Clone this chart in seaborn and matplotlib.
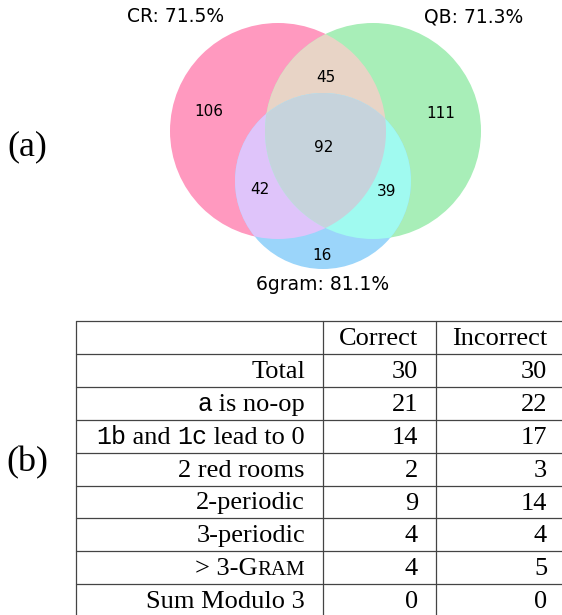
import numpy as np
import matplotlib
matplotlib.use("Agg")
import matplotlib.pyplot as plt
from matplotlib.patches import Circle, Polygon
import seaborn as sns

sns.set_theme(style="white")
plt.rcParams["text.color"] = "black"

# Venn (a)
set_names = ["CR: 71.5%", "QB: 71.3%", "6gram: 81.1%"]
region_keys = ["100", "010", "001", "110", "101", "011", "111"]
region_counts = [106, 111, 16, 45, 42, 39, 92]
region_colors = ["#FF99BF", "#A8EEB8", "#9BD5FA", "#E8D4C6", "#DFC4FA", "#A0FAF0", "#C6D3DC"]

# Table (b)
col_headers = ["Correct", "Incorrect"]
row_labels = [
    [("Total", "serif")],
    [("a", "mono"), (" is no-op", "serif")],
    [("1b", "mono"), (" and ", "serif"), ("1c", "mono"), (" lead to 0", "serif")],
    [("2 red rooms", "serif")],
    [("2-periodic", "serif")],
    [("3-periodic", "serif")],
    [("> 3-G", "serif"), ("RAM", "small")],
    [("Sum Modulo 3", "serif")],
]
correct = [30, 21, 14, 2, 9, 4, 4, 0]
incorrect = [30, 22, 17, 3, 14, 4, 5, 0]

fig = plt.figure(figsize=(5.62, 6.15), dpi=100)
ax = fig.add_axes([0, 0, 1, 1])
ax.set_xlim(0, 562)
ax.set_ylim(615, 0)
ax.axis("off")

# circle layout (pixel units)
centers = [(278, 131), (373, 131), (323, 181)]
radii = [108, 108, 88]


def circ(i, **kw):
    return Circle(centers[i], radii[i], transform=ax.transData, lw=0, **kw)


colors = dict(zip(region_keys, region_colors))
counts = dict(zip(region_keys, region_counts))

# single sets
for i, key in enumerate(["100", "010", "001"]):
    ax.add_patch(circ(i, facecolor=colors[key], zorder=1))
# pairwise overlaps
for (i, j), key in zip([(0, 1), (0, 2), (1, 2)], ["110", "101", "011"]):
    p = circ(j, facecolor=colors[key], zorder=2)
    ax.add_patch(p)
    p.set_clip_path(circ(i))

# lens of CR and QB, used to clip the triple region
(ax0, ay0), (bx0, by0) = centers[0], centers[1]
r = radii[0]
d = bx0 - ax0
h = np.sqrt(r ** 2 - (d / 2) ** 2)
t = np.arctan2(h, d / 2)
ta = np.linspace(-t, t, 100)
tb = np.linspace(np.pi - t, np.pi + t, 100)
pts = np.vstack([
    np.column_stack([ax0 + r * np.cos(ta), ay0 + r * np.sin(ta)]),
    np.column_stack([bx0 + r * np.cos(tb), by0 + r * np.sin(tb)]),
])
lens = Polygon(pts, closed=True, transform=ax.transData)
p = circ(2, facecolor=colors["111"], zorder=3)
ax.add_patch(p)
p.set_clip_path(lens)

label_pos = {"100": (209, 112), "010": (441, 113), "001": (322, 256),
             "110": (326, 77), "101": (260, 190), "011": (387, 191), "111": (324, 148)}
for key in region_keys:
    x, y = label_pos[key]
    ax.text(x, y, str(counts[key]), ha="center", va="center", fontsize=11,
            family="DejaVu Sans", zorder=5)

for name, (x, y) in zip(set_names, [(176, 17), (474, 17), (323, 285)]):
    ax.text(x, y, name, ha="center", va="center", fontsize=13.5,
            family="DejaVu Sans", zorder=5)

ax.text(27, 147, "(a)", ha="center", va="center", fontsize=26, family="Liberation Serif")
ax.text(27, 463, "(b)", ha="center", va="center", fontsize=26, family="Liberation Serif")

# table grid
top = 321.0
step = 32.9
n_lines = len(row_labels) + 2
xl, xc1, xc2, xr = 76, 323, 436, 563
for k in range(n_lines):
    y = top + k * step
    ax.plot([xl, xr], [y, y], color="#444444", lw=0.9, zorder=5)
bottom = 615
for x in [xl, xc1, xc2, xr]:
    ax.plot([x, x], [top, bottom], color="#444444", lw=0.9, zorder=5)

fonts = {"serif": ("Liberation Serif", 19), "mono": ("Liberation Mono", 18),
         "small": ("Liberation Serif", 15)}
base = 24.0

hy = top + base
ax.text(418, hy, col_headers[0], ha="right", va="baseline", family="Liberation Serif", fontsize=19)
ax.text(547, hy, col_headers[1], ha="right", va="baseline", family="Liberation Serif", fontsize=19)

for k, segs in enumerate(row_labels):
    y = top + (k + 1) * step + base
    prev = None
    for text, kind in reversed(segs):
        fam, fs = fonts[kind]
        if prev is None:
            prev = ax.text(305, y, text, ha="right", va="baseline", family=fam, fontsize=fs)
        else:
            prev = ax.annotate(text, xy=(0, y), xycoords=(prev, "data"), ha="right",
                               va="baseline", family=fam, fontsize=fs)
    ax.text(418, y, str(correct[k]), ha="right", va="baseline", family="Liberation Serif", fontsize=19)
    ax.text(547, y, str(incorrect[k]), ha="right", va="baseline", family="Liberation Serif", fontsize=19)

fig.savefig("out.png", dpi=100)
